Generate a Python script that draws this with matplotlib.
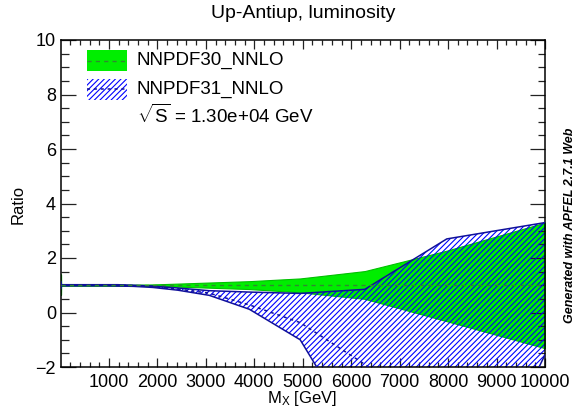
import matplotlib
matplotlib.use("Agg")
import matplotlib.pyplot as plt
from matplotlib.ticker import MultipleLocator
from matplotlib.patches import Rectangle
from matplotlib.lines import Line2D

plt.rcParams['font.family'] = ['Liberation Sans', 'DejaVu Sans']
plt.rcParams['mathtext.fontset'] = 'custom'
plt.rcParams['mathtext.rm'] = 'Liberation Sans'
plt.rcParams['mathtext.it'] = 'Liberation Sans'
plt.rcParams['hatch.linewidth'] = 0.8
plt.rcParams['hatch.color'] = 'blue'

# ---- data ----
mass = [10, 12.7, 16.1, 20.5, 26.0, 33.0, 41.9, 53.1, 67.5, 85.6, 108.7, 138.0,
        175.2, 222.4, 282.3, 358.4, 455.0, 577.6, 733.2, 930.8, 1181.6, 1500.0,
        1904.3, 2417.7, 3069.3, 3896.5, 4946.6, 6279.7, 7972.0, 10000]

nn30_center = [1.0] * 30
nn30_upper = [1.40, 1.03, 1.03, 1.02, 1.02, 1.02, 1.02, 1.02, 1.02, 1.02,
              1.02, 1.02, 1.02, 1.02, 1.02, 1.02, 1.02, 1.02, 1.02, 1.02,
              1.02, 1.02, 1.03, 1.06, 1.10, 1.15, 1.25, 1.52, 2.27, 3.30]
nn30_lower = [0.65, 0.97, 0.97, 0.98, 0.98, 0.98, 0.98, 0.98, 0.98, 0.98,
              0.98, 0.98, 0.98, 0.98, 0.98, 0.98, 0.98, 0.98, 0.98, 0.98,
              0.98, 0.98, 0.97, 0.95, 0.91, 0.86, 0.74, 0.50, -0.32, -1.31]

nn31_center = [1.0, 1.0, 1.0, 1.0, 1.0, 1.0, 1.0, 1.0, 1.0, 1.0,
               1.0, 1.0, 1.0, 1.0, 1.0, 1.0, 1.0, 1.0, 1.0, 1.0,
               1.0, 0.99, 0.95, 0.86, 0.71, 0.28, -0.37, -1.90, -4.00, -5.00]
nn31_upper = [1.12, 1.03, 1.03, 1.02, 1.02, 1.02, 1.02, 1.02, 1.02, 1.02,
              1.02, 1.02, 1.02, 1.02, 1.02, 1.02, 1.02, 1.02, 1.02, 1.02,
              1.02, 1.00, 0.97, 0.90, 0.80, 0.75, 0.70, 0.85, 2.70, 3.30]
nn31_lower = [0.88, 0.97, 0.97, 0.98, 0.98, 0.98, 0.98, 0.98, 0.98, 0.98,
              0.98, 0.98, 0.98, 0.98, 0.98, 0.98, 0.98, 0.98, 0.98, 0.98,
              0.97, 0.96, 0.92, 0.82, 0.63, 0.12, -1.00, -4.90, -9.00, -1.55]

labels = ['NNPDF30_NNLO', 'NNPDF31_NNLO']
xticks = [1000, 2000, 3000, 4000, 5000, 6000, 7000, 8000, 9000, 10000]
yticks = [-2, 0, 2, 4, 6, 8, 10]

GREEN = '#00ee00'
GREEN_DASH = '#2f8a2f'
NAVY = '#10109a'
HATCH = '//////'

fig = plt.figure(figsize=(5.78, 4.12), dpi=100)
ax = fig.add_axes([61 / 578, 45 / 412, 484 / 578, 327 / 412])

# NNPDF30 band
ax.fill_between(mass, nn30_lower, nn30_upper, facecolor=GREEN, edgecolor='#00c000',
                linewidth=0.8, zorder=1)
# NNPDF31 hatched band
ax.fill_between(mass, nn31_lower, nn31_upper, facecolor='none', edgecolor='blue',
                linewidth=0, hatch=HATCH, zorder=2)
ax.plot(mass, nn31_upper, color=NAVY, lw=1.1, zorder=3)
ax.plot(mass, nn31_lower, color=NAVY, lw=1.1, zorder=3)
ax.plot(mass, nn31_center, color=NAVY, lw=1.1, dashes=(2, 2.5), zorder=3)
ax.plot(mass, nn30_center, color=GREEN_DASH, lw=1.0, dashes=(3, 3), zorder=4)

ax.set_xlim(10, 10000)
ax.set_ylim(-2, 10)
ax.set_xticks(xticks)
ax.set_xticklabels([str(t) for t in xticks])
ax.set_yticks(yticks)
ax.set_yticklabels([str(t).replace('-', '\u2212') for t in yticks])
ax.xaxis.set_minor_locator(MultipleLocator(200))
ax.yaxis.set_minor_locator(MultipleLocator(0.5))
ax.tick_params(which='both', direction='in', top=True, right=True, width=0.9,
               color='#222222', labelsize=13)
ax.xaxis.set_tick_params(which='major', length=6.5, pad=5)
ax.xaxis.set_tick_params(which='minor', length=3.3)
ax.yaxis.set_tick_params(which='major', length=10.8, pad=3.6)
ax.yaxis.set_tick_params(which='minor', length=5.4)
for s in ax.spines.values():
    s.set_linewidth(1.1)

# axis labels / title
fig.text(303 / 578, 1 - 18.3 / 412, 'Up-Antiup, luminosity', ha='center',
         va='baseline', fontsize=14)
fig.text(18 / 578, 1 - 204 / 412, 'Ratio', rotation=90, ha='center', va='center',
         fontsize=12)
fig.text(302 / 578, 1 - 389.5 / 412, r'M$_{\mathrm{X}}$ [GeV]', ha='center',
         va='top', fontsize=12)
fig.text(570 / 578, 1 - 225 / 412, 'Generated with APFEL 2.7.1 Web', rotation=90,
         ha='center', va='center', fontsize=9, fontweight='bold', fontstyle='italic')

# legend drawn in axes fraction
bx0, bw = 26 / 484, 40 / 484
ax.add_patch(Rectangle((bx0, 0.905), bw, 0.064, transform=ax.transAxes,
                       facecolor=GREEN, edgecolor='none', zorder=5))
ax.add_line(Line2D([bx0, bx0 + bw], [0.937, 0.937], transform=ax.transAxes,
                   color=GREEN_DASH, lw=1.0, dashes=(3, 3), zorder=6))
ax.add_patch(Rectangle((bx0, 0.8165), bw, 0.064, transform=ax.transAxes,
                       facecolor='none', edgecolor='blue', linewidth=0, hatch=HATCH,
                       zorder=5))
ax.add_line(Line2D([bx0, bx0 + bw], [0.849, 0.849], transform=ax.transAxes,
                   color=NAVY, lw=1.1, dashes=(2, 2.5), zorder=6))
ax.text(75 / 484, 0.938, labels[0], transform=ax.transAxes, ha='left',
        va='center', fontsize=13.5)
ax.text(75 / 484, 0.850, labels[1], transform=ax.transAxes, ha='left',
        va='center', fontsize=13.5)
ax.text(76 / 484, 0.769, r'$\sqrt{\mathrm{S}}$ = 1.30e+04 GeV', transform=ax.transAxes,
        ha='left', va='center', fontsize=13.5)

fig.savefig('out.png', dpi=100)
